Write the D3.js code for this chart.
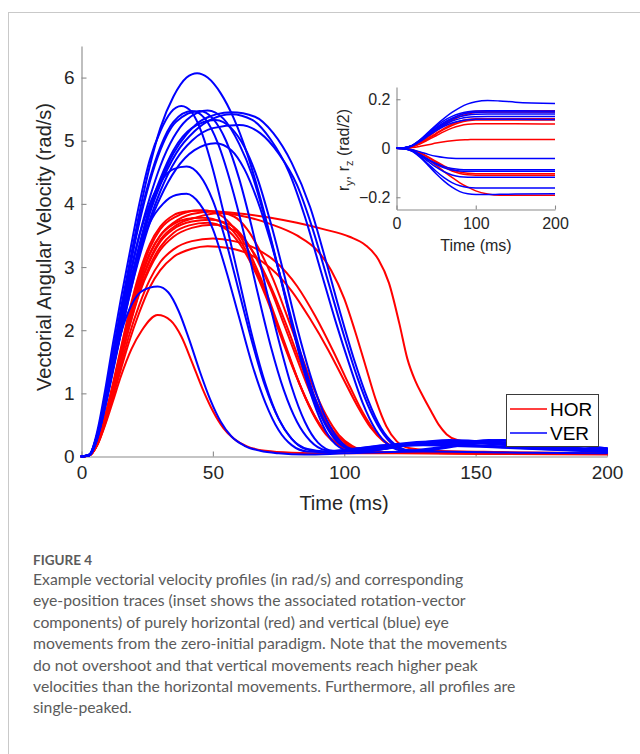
<!DOCTYPE html>
<html>
<head>
<meta charset="utf-8">
<script src="https://cdn.jsdelivr.net/npm/d3@7"></script>
<style>
  html, body { margin: 0; padding: 0; background: #fff; }
  svg { display: block; }
</style>
</head>
<body>
<svg id="fig" width="640" height="754"></svg>
<script>
// ---- Vectorial angular velocity profiles [time (ms), velocity (rad/s)] ----
// Horizontal movements (red)
const hor1 = [[0,0],[3,0.02],[6,0.18],[9,0.5],[12,0.88],[15,1.27],[19,1.7],[23,2.0],[29,2.24],[34,2.15],[38,1.9],[42,1.5],[46,1.08],[50,0.72],[54,0.45],[58,0.28],[63,0.16],[70,0.09],[80,0.06],[95,0.05],[120,0.05],[160,0.04],[200,0.03]];
const hor2 = [[0,0],[3,0.02],[6,0.18],[9,0.52],[12,0.95],[15,1.38],[18,1.8],[22,2.28],[26,2.68],[30,2.95],[35,3.16],[42,3.29],[48,3.33],[56,3.3],[64,3.2],[72,2.98],[80,2.62],[87,2.18],[94,1.68],[100,1.2],[105,0.8],[110,0.46],[115,0.24],[120,0.13],[127,0.08],[145,0.06],[200,0.05]];
const hor3 = [[0,0],[3,0.02],[6,0.19],[9,0.55],[12,1.0],[15,1.45],[18,1.9],[22,2.4],[26,2.8],[30,3.08],[35,3.28],[42,3.41],[50,3.45],[58,3.41],[66,3.3],[74,3.08],[82,2.7],[89,2.22],[96,1.65],[102,1.12],[107,0.7],[112,0.38],[117,0.19],[122,0.11],[130,0.08],[150,0.06],[200,0.05]];
const hor4 = [[0,0],[3,0.02],[6,0.2],[9,0.58],[12,1.05],[15,1.55],[18,2.03],[22,2.6],[26,3.02],[30,3.32],[35,3.54],[41,3.66],[48,3.7],[55,3.6],[60,3.38],[65,3.02],[70,2.55],[75,2.0],[80,1.45],[85,0.95],[90,0.55],[95,0.28],[100,0.14],[107,0.08],[120,0.06],[200,0.04]];
const hor5 = [[0,0],[3,0.02],[6,0.2],[9,0.6],[12,1.08],[15,1.6],[18,2.1],[22,2.68],[26,3.1],[30,3.4],[35,3.6],[42,3.72],[49,3.75],[57,3.66],[62,3.45],[67,3.1],[72,2.65],[77,2.1],[82,1.55],[87,1.02],[92,0.6],[97,0.3],[102,0.15],[109,0.08],[125,0.06],[200,0.04]];
const hor6 = [[0,0],[3,0.02],[6,0.22],[9,0.63],[12,1.12],[15,1.66],[18,2.18],[22,2.78],[26,3.22],[30,3.5],[35,3.68],[40,3.76],[46,3.78],[54,3.7],[59,3.5],[64,3.15],[69,2.7],[74,2.15],[79,1.58],[84,1.05],[89,0.62],[94,0.32],[99,0.16],[106,0.08],[120,0.06],[200,0.04]];
const hor7 = [[0,0],[3,0.02],[6,0.22],[9,0.65],[12,1.16],[15,1.72],[18,2.27],[22,2.9],[26,3.36],[30,3.64],[35,3.82],[40,3.88],[46,3.9],[53,3.82],[58,3.62],[63,3.3],[68,2.85],[73,2.3],[78,1.72],[83,1.15],[88,0.68],[93,0.35],[98,0.17],[104,0.09],[115,0.06],[200,0.04]];
const hor8 = [[0,0],[3,0.02],[6,0.2],[9,0.6],[12,1.1],[15,1.62],[18,2.14],[22,2.74],[26,3.2],[30,3.5],[35,3.7],[42,3.84],[50,3.88],[58,3.8],[63,3.6],[68,3.25],[73,2.8],[78,2.25],[83,1.68],[88,1.12],[93,0.66],[98,0.34],[103,0.17],[109,0.09],[120,0.06],[200,0.04]];
const hor9 = [[0,0],[3,0.02],[6,0.2],[9,0.58],[12,1.06],[15,1.58],[18,2.08],[22,2.67],[26,3.12],[30,3.43],[36,3.66],[44,3.79],[52,3.85],[62,3.8],[72,3.68],[82,3.5],[90,3.25],[95,2.95],[100,2.5],[104,2.0],[108,1.45],[112,0.9],[116,0.48],[120,0.24],[125,0.13],[135,0.09],[160,0.07],[200,0.05]];
const hor10 = [[0,0],[3,0.02],[6,0.21],[9,0.62],[12,1.13],[15,1.68],[18,2.22],[22,2.84],[26,3.3],[30,3.6],[36,3.8],[44,3.89],[52,3.88],[62,3.84],[72,3.78],[82,3.7],[92,3.6],[102,3.48],[108,3.35],[113,3.12],[117,2.75],[121,2.1],[124,1.55],[127,1.2],[130,0.95],[133,0.72],[136,0.5],[139,0.35],[143,0.26],[150,0.22],[160,0.2],[175,0.15],[200,0.1]];
const hor11 = [[0,0],[3,0.02],[6,0.2],[9,0.58],[12,1.05],[15,1.54],[18,2.02],[22,2.58],[26,2.98],[30,3.27],[35,3.48],[42,3.62],[50,3.67],[58,3.58],[63,3.38],[68,3.05],[73,2.6],[78,2.08],[83,1.52],[88,1.0],[93,0.58],[98,0.3],[103,0.15],[110,0.08],[125,0.06],[200,0.04]];

// Vertical movements (blue)
const ver1 = [[0,0],[3,0.03],[6,0.35],[9,0.95],[12,1.65],[15,2.35],[18,3.0],[22,3.85],[26,4.6],[30,5.2],[35,5.7],[40,6.0],[44,6.07],[48,6.0],[53,5.75],[58,5.35],[63,4.8],[68,4.1],[73,3.3],[78,2.45],[83,1.6],[88,0.9],[93,0.4],[98,0.15],[103,0.08],[110,0.12],[120,0.2],[135,0.24],[150,0.22],[170,0.16],[200,0.1]];
const ver2 = [[0,0],[3,0.03],[6,0.4],[9,1.05],[12,1.8],[15,2.5],[18,3.15],[22,4.0],[26,4.7],[30,5.15],[34,5.45],[38,5.55],[42,5.45],[46,5.1],[50,4.55],[55,3.7],[60,2.8],[65,1.9],[70,1.15],[75,0.6],[80,0.28],[85,0.12],[92,0.07],[100,0.1],[115,0.18],[130,0.2],[150,0.17],[175,0.12],[200,0.08]];
const ver3 = [[0,0],[3,0.03],[6,0.35],[9,0.95],[12,1.65],[15,2.3],[18,2.95],[22,3.75],[26,4.4],[30,4.9],[35,5.3],[42,5.47],[47,5.35],[52,4.95],[57,4.3],[62,3.5],[67,2.6],[72,1.75],[77,1.05],[82,0.55],[87,0.25],[93,0.1],[100,0.08],[115,0.15],[135,0.2],[160,0.16],[200,0.09]];
const ver4 = [[0,0],[3,0.02],[6,0.3],[9,0.85],[12,1.5],[15,2.15],[18,2.75],[22,3.5],[26,4.1],[30,4.6],[35,5.05],[40,5.33],[48,5.48],[54,5.35],[60,4.95],[65,4.45],[70,3.75],[75,2.95],[80,2.1],[85,1.35],[90,0.75],[95,0.35],[100,0.15],[106,0.08],[115,0.12],[130,0.22],[150,0.24],[175,0.18],[200,0.1]];
const ver5 = [[0,0],[3,0.02],[6,0.3],[9,0.8],[12,1.4],[15,2.0],[18,2.6],[22,3.3],[26,3.9],[30,4.35],[35,4.8],[40,5.1],[46,5.33],[57,5.45],[66,5.38],[73,5.12],[80,4.65],[87,3.95],[93,3.1],[99,2.2],[104,1.5],[109,0.9],[114,0.45],[119,0.2],[124,0.1],[130,0.09],[142,0.16],[160,0.25],[180,0.2],[200,0.12]];
const ver6 = [[0,0],[3,0.02],[6,0.3],[9,0.85],[12,1.45],[15,2.05],[18,2.65],[22,3.35],[26,3.95],[30,4.4],[35,4.85],[42,5.2],[51,5.33],[57,5.2],[62,4.9],[67,4.4],[72,3.7],[77,2.9],[82,2.05],[87,1.3],[92,0.7],[97,0.32],[102,0.13],[108,0.08],[120,0.16],[140,0.26],[165,0.2],[200,0.1]];
const ver7 = [[0,0],[3,0.02],[6,0.28],[9,0.78],[12,1.35],[15,1.95],[18,2.5],[22,3.2],[26,3.75],[30,4.2],[36,4.7],[42,5.0],[50,5.2],[60,5.25],[68,5.12],[75,4.8],[82,4.3],[88,3.6],[94,2.75],[100,1.9],[105,1.25],[110,0.72],[115,0.35],[120,0.15],[126,0.09],[137,0.14],[160,0.26],[180,0.21],[200,0.13]];
const ver8 = [[0,0],[3,0.02],[6,0.3],[9,0.8],[12,1.4],[15,1.95],[18,2.5],[22,3.15],[26,3.7],[30,4.1],[36,4.55],[43,4.85],[51,4.96],[57,4.85],[62,4.55],[67,4.05],[72,3.4],[77,2.65],[82,1.85],[87,1.15],[92,0.6],[97,0.27],[102,0.12],[110,0.1],[125,0.18],[145,0.22],[170,0.17],[200,0.1]];
const ver9 = [[0,0],[3,0.03],[6,0.35],[9,0.95],[12,1.6],[15,2.2],[18,2.8],[22,3.5],[26,4.0],[31,4.4],[35,4.55],[40,4.59],[45,4.45],[50,4.05],[55,3.4],[60,2.6],[65,1.8],[70,1.1],[75,0.6],[80,0.28],[86,0.12],[93,0.08],[105,0.13],[125,0.2],[150,0.17],[200,0.08]];
const ver10 = [[0,0],[3,0.03],[6,0.35],[9,0.9],[12,1.5],[15,2.1],[18,2.65],[22,3.25],[26,3.7],[31,4.0],[36,4.14],[40,4.16],[45,4.0],[50,3.6],[55,2.95],[60,2.2],[65,1.45],[70,0.85],[75,0.42],[80,0.18],[86,0.08],[95,0.07],[110,0.13],[130,0.18],[160,0.14],[200,0.07]];
const ver11 = [[0,0],[3,0.03],[6,0.35],[9,0.9],[12,1.45],[15,1.95],[19,2.4],[23,2.62],[29,2.69],[33,2.6],[37,2.3],[41,1.85],[45,1.35],[49,0.9],[53,0.55],[57,0.32],[62,0.17],[68,0.09],[75,0.05],[85,0.03],[100,0.05],[130,0.08],[170,0.06],[200,0.05]];
const ver12 = [[0,0],[3,0.02],[6,0.28],[9,0.8],[12,1.38],[15,1.98],[18,2.55],[22,3.25],[26,3.85],[30,4.3],[36,4.8],[43,5.15],[50,5.35],[57,5.42],[65,5.33],[72,5.02],[79,4.5],[85,3.8],[91,2.95],[97,2.1],[102,1.45],[107,0.85],[112,0.42],[117,0.18],[123,0.09],[137,0.15],[155,0.26],[180,0.2],[200,0.13]];
const ver13 = [[0,0],[3,0.03],[6,0.35],[9,0.95],[12,1.6],[15,2.25],[18,2.9],[22,3.7],[26,4.35],[30,4.85],[36,5.3],[45,5.47],[50,5.35],[55,5.0],[60,4.4],[65,3.6],[70,2.7],[75,1.85],[80,1.1],[85,0.55],[90,0.22],[96,0.09],[105,0.1],[120,0.18],[140,0.22],[170,0.16],[200,0.1]];

const horProfiles = [hor1, hor2, hor3, hor4, hor5, hor6, hor7, hor8, hor9, hor10, hor11];
const verProfiles = [ver1, ver2, ver3, ver4, ver5, ver6, ver7, ver8, ver9, ver10, ver11, ver12, ver13];

// ---- Inset: rotation-vector components r_y, r_z (rad/2) ----
const insetTime = [0, 10, 20, 30, 40, 50, 60, 70, 80, 90, 100, 115, 130, 150, 200];
const insetHor = [
  [0,0.001,0.008,0.025,0.048,0.074,0.098,0.119,0.135,0.146,0.151,0.153,0.153,0.153,0.153],
  [0,0.001,0.008,0.024,0.046,0.07,0.093,0.113,0.129,0.14,0.146,0.148,0.148,0.148,0.148],
  [0,0.001,0.007,0.021,0.04,0.061,0.081,0.098,0.11,0.117,0.12,0.12,0.12,0.12,0.12],
  [0,0.001,0.007,0.02,0.038,0.058,0.077,0.093,0.105,0.112,0.115,0.115,0.115,0.115,0.115],
  [0,0.001,0.006,0.018,0.034,0.051,0.068,0.082,0.092,0.098,0.1,0.1,0.1,0.1,0.099],
  [0,0.0005,0.003,0.008,0.014,0.021,0.027,0.031,0.034,0.035,0.036,0.036,0.036,0.036,0.036],
  [0,-0.001,-0.006,-0.018,-0.035,-0.054,-0.072,-0.087,-0.097,-0.102,-0.104,-0.104,-0.104,-0.104,-0.104],
  [0,-0.001,-0.007,-0.02,-0.038,-0.058,-0.077,-0.093,-0.103,-0.108,-0.11,-0.11,-0.11,-0.11,-0.11],
  [0,-0.001,-0.008,-0.024,-0.046,-0.07,-0.095,-0.119,-0.141,-0.159,-0.174,-0.187,-0.192,-0.192,-0.192]
];
const insetVer = [
  [0,0.002,0.012,0.035,0.065,0.095,0.122,0.146,0.166,0.181,0.19,0.195,0.193,0.188,0.183],
  [0,0.002,0.012,0.034,0.062,0.09,0.113,0.13,0.142,0.149,0.152,0.153,0.153,0.153,0.152],
  [0,0.002,0.011,0.032,0.058,0.084,0.106,0.123,0.136,0.144,0.147,0.148,0.148,0.148,0.148],
  [0,0.002,0.011,0.031,0.056,0.081,0.102,0.118,0.129,0.136,0.139,0.14,0.14,0.14,0.14],
  [0,0.002,0.01,0.029,0.053,0.076,0.096,0.111,0.121,0.127,0.129,0.13,0.13,0.13,0.13],
  [0,0.002,0.01,0.028,0.05,0.072,0.09,0.103,0.111,0.116,0.118,0.118,0.118,0.118,0.117],
  [0,-0.001,-0.006,-0.015,-0.025,-0.033,-0.038,-0.041,-0.042,-0.042,-0.042,-0.042,-0.042,-0.042,-0.042],
  [0,-0.002,-0.01,-0.026,-0.045,-0.062,-0.075,-0.083,-0.087,-0.088,-0.088,-0.088,-0.088,-0.088,-0.088],
  [0,-0.002,-0.01,-0.027,-0.047,-0.066,-0.08,-0.089,-0.093,-0.094,-0.094,-0.094,-0.094,-0.094,-0.094],
  [0,-0.002,-0.011,-0.03,-0.054,-0.077,-0.096,-0.109,-0.116,-0.118,-0.118,-0.118,-0.118,-0.118,-0.118],
  [0,-0.002,-0.012,-0.035,-0.064,-0.094,-0.12,-0.14,-0.153,-0.16,-0.162,-0.162,-0.162,-0.162,-0.162],
  [0,-0.002,-0.013,-0.038,-0.07,-0.104,-0.134,-0.159,-0.177,-0.186,-0.189,-0.189,-0.188,-0.187,-0.186]
];

// ---- Axis ticks and text ----
const mainXTicks = [0, 50, 100, 150, 200];
const mainYTicks = [0, 1, 2, 3, 4, 5, 6];
const insetXTicks = [0, 100, 200];
const insetYTicks = [-0.2, 0, 0.2];
const legendLabels = ["HOR", "VER"];
const captionTitle = "FIGURE 4";
const captionLines = [
  "Example vectorial velocity profiles (in rad/s) and corresponding",
  "eye-position traces (inset shows the associated rotation-vector",
  "components) of purely horizontal (red) and vertical (blue) eye",
  "movements from the zero-initial paradigm. Note that the movements",
  "do not overshoot and that vertical movements reach higher peak",
  "velocities than the horizontal movements. Furthermore, all profiles are",
  "single-peaked."
];

const RED = "#ff0000", BLUE = "#0000ff";
const AXIS = "#8a8a8a", TXT = "#262626";
const SANS = "'Liberation Sans', Arial, Helvetica, sans-serif";

const svg = d3.select("#fig");

// card frame
svg.append("rect")
  .attr("x", 8.5).attr("y", 12.5).attr("width", 720).attr("height", 800)
  .attr("fill", "none").attr("stroke", "#c9c9c9").attr("stroke-width", 1);

// ---------- main axes ----------
const x = d3.scaleLinear().domain([0, 200]).range([81.5, 607]);
const y = d3.scaleLinear().domain([0, 6.5]).range([456.5, 46]);

function styleAxis(g, size) {
  g.select(".domain").attr("stroke", AXIS).attr("stroke-width", 1.1);
  g.selectAll(".tick line").attr("stroke", AXIS).attr("stroke-width", 1.1);
  g.selectAll(".tick text").attr("fill", TXT).style("font-family", SANS).style("font-size", size + "px");
}

const gx = svg.append("g").attr("transform", "translate(0,456.5)")
  .call(d3.axisBottom(x).tickValues(mainXTicks).tickFormat(d3.format("d"))
    .tickSizeInner(-5).tickSizeOuter(0).tickPadding(9));
styleAxis(gx, 19);

const gy = svg.append("g").attr("transform", "translate(81.5,0)")
  .call(d3.axisLeft(y).tickValues(mainYTicks).tickFormat(d3.format("d"))
    .tickSizeInner(-5).tickSizeOuter(0).tickPadding(7));
styleAxis(gy, 19);

const mainLine = d3.line().x(d => x(d[0])).y(d => y(d[1])).curve(d3.curveMonotoneX);

const curves = svg.append("g").attr("fill", "none").attr("stroke-width", 2)
  .attr("stroke-linejoin", "round").attr("stroke-linecap", "round");
curves.selectAll("path.hor").data(horProfiles).join("path")
  .attr("class", "hor").attr("stroke", RED).attr("d", mainLine);
curves.selectAll("path.ver").data(verProfiles).join("path")
  .attr("class", "ver").attr("stroke", BLUE).attr("d", mainLine);

// axis titles
svg.append("text")
  .attr("transform", "translate(44,247) rotate(-90)")
  .attr("text-anchor", "middle").attr("dominant-baseline", "central")
  .style("font-family", SANS).style("font-size", "20px").attr("fill", TXT)
  .text("Vectorial Angular Velocity (rad/s)");
svg.append("text")
  .attr("x", 344).attr("y", 510).attr("text-anchor", "middle")
  .style("font-family", SANS).style("font-size", "20px").attr("fill", TXT)
  .text("Time (ms)");

// legend
const leg = svg.append("g");
leg.append("rect").attr("x", 506.5).attr("y", 394.5).attr("width", 92).attr("height", 52)
  .attr("fill", "#fff").attr("stroke", "#3a3a3a").attr("stroke-width", 1);
[RED, BLUE].forEach((c, i) => {
  const yy = 409 + i * 24;
  leg.append("line").attr("x1", 510).attr("x2", 547).attr("y1", yy).attr("y2", yy)
    .attr("stroke", c).attr("stroke-width", 1.5);
  leg.append("text").attr("x", 550).attr("y", yy).attr("dominant-baseline", "central")
    .style("font-family", SANS).style("font-size", "19px").attr("fill", "#000")
    .text(legendLabels[i]);
});

// ---------- inset axes ----------
const xi = d3.scaleLinear().domain([0, 200]).range([396.5, 555]);
const yi = d3.scaleLinear().domain([-0.25, 0.25]).range([209.5, 87]);

svg.append("rect").attr("x", 396.5).attr("y", 87).attr("width", 158.5).attr("height", 122.5)
  .attr("fill", "#fff");

const gxi = svg.append("g").attr("transform", "translate(0,209.5)")
  .call(d3.axisBottom(xi).tickValues(insetXTicks).tickFormat(d3.format("d"))
    .tickSizeInner(-4).tickSizeOuter(0).tickPadding(8));
styleAxis(gxi, 16);
const gyi = svg.append("g").attr("transform", "translate(396.5,0)")
  .call(d3.axisLeft(yi).tickValues(insetYTicks).tickFormat(d => d === 0 ? "0" : d3.format(".1f")(d))
    .tickSizeInner(-4).tickSizeOuter(0).tickPadding(6));
styleAxis(gyi, 16);

const insetLine = d3.line().x((d, i) => xi(insetTime[i])).y(d => yi(d)).curve(d3.curveMonotoneX);
const insetG = svg.append("g").attr("fill", "none").attr("stroke-width", 1.5);
insetG.selectAll("path.ih").data(insetHor).join("path")
  .attr("class", "ih").attr("stroke", RED).attr("d", insetLine);
insetG.selectAll("path.iv").data(insetVer).join("path")
  .attr("class", "iv").attr("stroke", BLUE).attr("d", insetLine);

svg.append("text")
  .attr("x", 476).attr("y", 251).attr("text-anchor", "middle")
  .style("font-family", SANS).style("font-size", "16px").attr("fill", TXT)
  .text("Time (ms)");

const yl = svg.append("text")
  .attr("transform", "translate(349,150) rotate(-90)")
  .attr("text-anchor", "middle")
  .style("font-family", SANS).style("font-size", "16px").attr("fill", TXT);
yl.append("tspan").text("r");
yl.append("tspan").attr("dy", 4).style("font-size", "11px").text("y");
yl.append("tspan").attr("dy", -4).text(", r");
yl.append("tspan").attr("dy", 4).style("font-size", "11px").text("z");
yl.append("tspan").attr("dy", -4).text(" (rad/2)");

// ---------- caption ----------
const CAP = "Lato, 'Open Sans', sans-serif";
svg.append("text").attr("x", 33).attr("y", 565)
  .style("font-family", CAP).style("font-size", "13.5px").style("font-weight", 700)
  .attr("fill", "#5b5b5b").text(captionTitle);
svg.append("g").selectAll("text").data(captionLines).join("text")
  .attr("x", 33).attr("y", (d, i) => 585 + i * 21.4)
  .style("font-family", CAP).style("font-size", "15.75px")
  .attr("fill", "#5b5b5b").text(d => d);
</script>
</body>
</html>
